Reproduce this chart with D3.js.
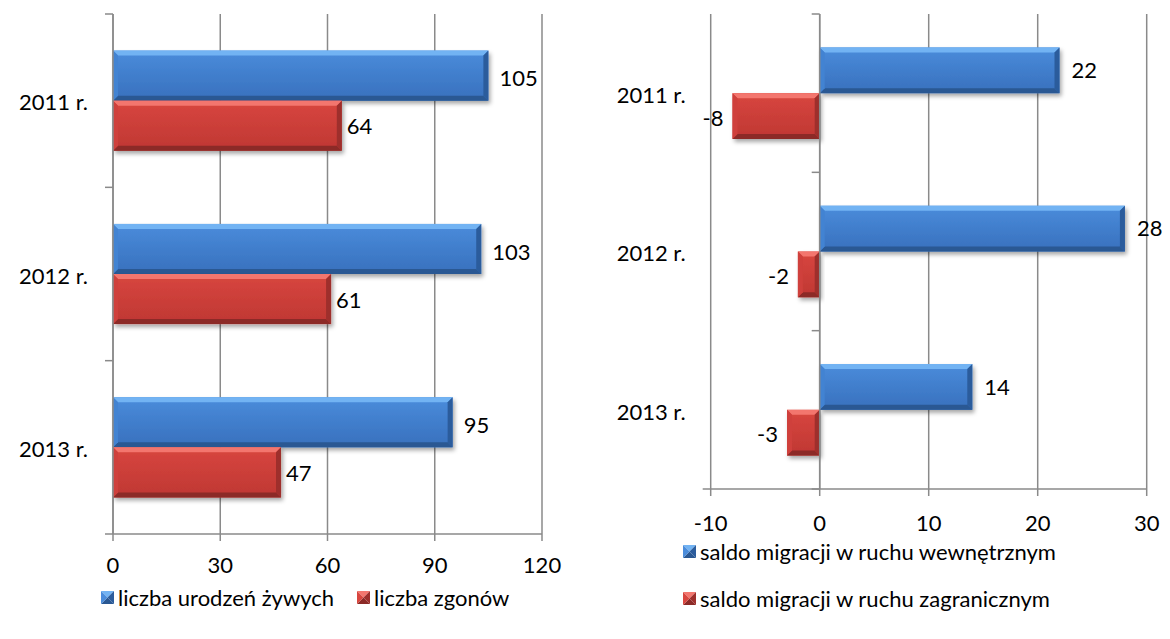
<!DOCTYPE html>
<html><head><meta charset="utf-8">
<script src="https://cdn.jsdelivr.net/npm/d3@7"></script>
<style>body{margin:0;background:#fff}svg{display:block}text{font-family:Lato,"Open Sans",sans-serif;fill:#000}</style>
</head><body>
<svg id="c" width="1170" height="639"></svg>
<script>
const categories = ["2011 r.", "2012 r.", "2013 r."];
const leftSeries = ["liczba urodzeń żywych", "liczba zgonów"];
const leftBirths = [105, 103, 95];
const leftDeaths = [64, 61, 47];
const leftTicks = [0, 30, 60, 90, 120];
const rightSeries = ["saldo migracji w ruchu wewnętrznym", "saldo migracji w ruchu zagranicznym"];
const rightInternal = [22, 28, 14];
const rightForeign = [-8, -2, -3];
const rightTicks = [-10, 0, 10, 20, 30];

const svg = d3.select("#c");
const FS = 22, GRID = "#8a8a8a";
const defs = svg.append("defs");
const f = defs.append("filter").attr("id","sh").attr("x","-10%").attr("y","-20%").attr("width","130%").attr("height","160%");
f.append("feDropShadow").attr("dx",2).attr("dy",3).attr("stdDeviation",2).attr("flood-color","#000").attr("flood-opacity",0.35);

const palettes = {
  blue:{g0:"#4a8cdb",g1:"#3870bd",top:"#72b3f3",bot:"#2a5893",right:"#2b5c9c",left:"#4283d2"},
  red:{g0:"#d8463f",g1:"#bf3733",top:"#f3766e",bot:"#8c2a27",right:"#9e2f2c",left:"#cf403c"}
};
Object.entries(palettes).forEach(([k,p])=>{
  const lg = defs.append("linearGradient").attr("id","g_"+k).attr("x1",0).attr("y1",0).attr("x2",0).attr("y2",1);
  lg.append("stop").attr("offset","0%").attr("stop-color",p.g0);
  lg.append("stop").attr("offset","100%").attr("stop-color",p.g1);
});

function bar(g, xa, xb, y0, h, key){
  const p = palettes[key], b = 5;
  const x0 = Math.min(xa,xb), x1 = Math.max(xa,xb), y1 = y0+h;
  const gg = g.append("g");
  gg.append("rect").attr("x",x0).attr("y",y0).attr("width",x1-x0).attr("height",h).attr("fill","url(#g_"+key+")").attr("filter","url(#sh)");
  const poly = (pts,c)=>gg.append("polygon").attr("points",pts.map(d=>d.join(",")).join(" ")).attr("fill",c);
  poly([[x0,y0],[x1,y0],[x1-b,y0+b],[x0+b,y0+b]],p.top);
  poly([[x0,y1],[x1,y1],[x1-b,y1-b],[x0+b,y1-b]],p.bot);
  poly([[x1,y0],[x1,y1],[x1-b,y1-b],[x1-b,y0+b]],p.right);
  poly([[x0,y0],[x0,y1],[x0+b,y1-b],[x0+b,y0+b]],p.left);
}
function marker(g, x, y, key){
  const p = palettes[key], s = 13, c=[x+s/2,y+s/2];
  const poly = (pts,col)=>g.append("polygon").attr("points",pts.map(d=>d.join(",")).join(" ")).attr("fill",col);
  poly([[x,y],[x+s,y],c],p.top);
  poly([[x,y+s],[x+s,y+s],c],p.bot);
  poly([[x+s,y],[x+s,y+s],c],p.right);
  poly([[x,y],[x,y+s],c],p.g0);
}

function chart(opts){
  const g = svg.append("g");
  const x = d3.scaleLinear().domain(opts.domain).range(opts.xr);
  const y = d3.scaleBand().domain(categories).range(opts.yr).padding(0);
  const inner = d3.scaleBand().domain([0,1]).range([0,y.bandwidth()]).paddingInner(0).paddingOuter(0.73);
  const [top,bottom] = opts.yr;
  g.selectAll(".gl").data(opts.ticks).join("line")
    .attr("x1",d=>x(d)).attr("x2",d=>x(d)).attr("y1",top).attr("y2",bottom+7)
    .attr("stroke",GRID).attr("stroke-width",1.5);
  const series = [opts.s0, opts.s1], keys=["blue","red"];
  series.forEach((vals,si)=>{
    vals.forEach((v,i)=>{
      const y0 = y(categories[i]) + inner(si);
      bar(g, x(0), x(v), y0, inner.bandwidth(), keys[si]);
      const off = (si===0?opts.offB:opts.offR);
      g.append("text").attr("x", v>=0 ? x(v)+off : x(v)-off)
        .attr("y", y0+inner.bandwidth()/2+opts.labDy[si]).attr("dy","0.35em")
        .attr("text-anchor", v>=0?"start":"end").attr("font-size",FS).text(v);
    });
  });
  g.append("line").attr("x1",opts.xr[0]-8).attr("x2",opts.xr[1]).attr("y1",bottom).attr("y2",bottom).attr("stroke",GRID).attr("stroke-width",1.5);
  const ax = x(0);
  g.append("line").attr("x1",ax).attr("x2",ax).attr("y1",top).attr("y2",bottom).attr("stroke",GRID).attr("stroke-width",1.5);
  const bounds = categories.map(c=>y(c));
  g.selectAll(".yt").data(bounds).join("line").attr("x1",ax-8).attr("x2",ax).attr("y1",d=>d).attr("y2",d=>d).attr("stroke",GRID).attr("stroke-width",1.5);
  if (ax !== opts.xr[0]) g.append("line").attr("x1",ax-8).attr("x2",ax).attr("y1",bottom).attr("y2",bottom).attr("stroke",GRID).attr("stroke-width",1.5);
  g.selectAll(".tl").data(opts.ticks).join("text").attr("x",d=>x(d)).attr("y",opts.tickY).attr("dy","0.35em")
    .attr("text-anchor","middle").attr("font-size",FS).text(d=>d);
  g.selectAll(".cl").data(categories).join("text").attr("x",opts.xr[0]-opts.catOff).attr("y",d=>y(d)+y.bandwidth()/2+2).attr("dy","0.35em")
    .attr("text-anchor","end").attr("font-size",FS).text(d=>d);
  opts.legend.forEach((l,i)=>{
    marker(g, l.x, l.y-6, keys[i]);
    g.append("text").attr("x",l.x+17).attr("y",l.y+1).attr("dy","0.35em").attr("font-size",FS).text(opts.names[i]);
  });
}

chart({domain:[0,120], xr:[113,542], yr:[14,534], ticks:leftTicks, s0:leftBirths, s1:leftDeaths,
  offB:11, offR:5, labDy:[3,1], tickY:565, catOff:25, names:leftSeries,
  legend:[{x:101,y:597},{x:357,y:597}]});
chart({domain:[-10,30], xr:[710.7,1146.7], yr:[14,489], ticks:rightTicks, s0:rightInternal, s1:rightForeign,
  offB:12, offR:9, labDy:[0,2], tickY:523, catOff:25, names:rightSeries,
  legend:[{x:683,y:551},{x:683,y:598}]});
</script>
</body></html>
